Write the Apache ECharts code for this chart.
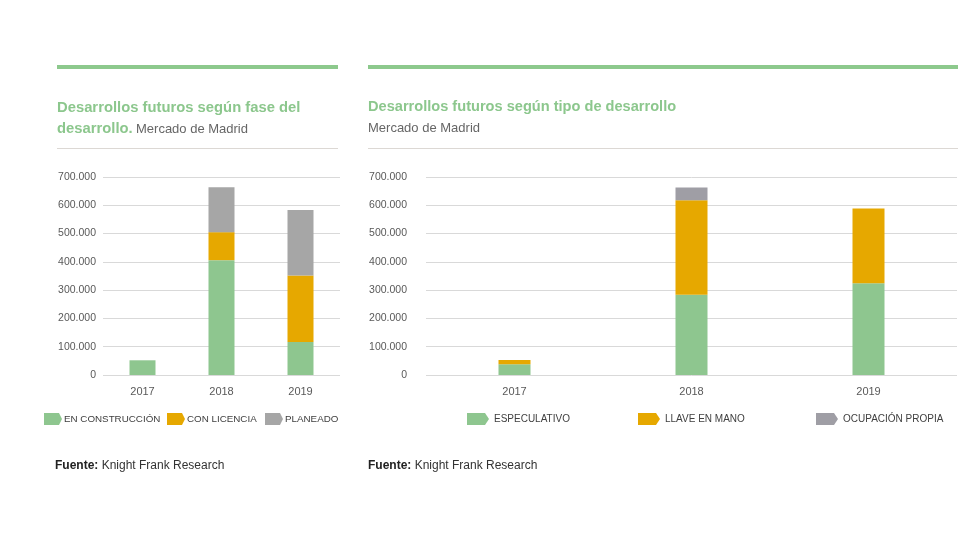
<!DOCTYPE html>
<html>
<head>
<meta charset="utf-8">
<script src="https://cdn.jsdelivr.net/npm/echarts@6/dist/echarts.min.js"></script>
<style>
  html, body { margin: 0; padding: 0; background: #ffffff; }
  #chart { width: 980px; height: 560px; }
</style>
</head>
<body>
<div id="chart"></div>
<script>
// ---- Data ----
const years = ['2017', '2018', '2019'];

// Left chart: by development phase
const faseNames = ['EN CONSTRUCCIÓN', 'CON LICENCIA', 'PLANEADO'];
const enConstruccion = [52000, 406000, 117000];
const conLicencia = [0, 99000, 235000];
const planeado = [0, 159000, 231000];

// Right chart: by development type
const tipoNames = ['ESPECULATIVO', 'LLAVE EN MANO', 'OCUPACIÓN PROPIA'];
const especulativo = [38000, 284000, 324000];
const llaveEnMano = [15000, 334000, 265000];
const ocupacionPropia = [0, 45000, 0];

const yMax = 700000;
const yStep = 100000;

// ---- Style ----
const GREEN = '#8ec68f';
const ORANGE = '#e6a800';
const GRAY_L = '#a6a6a6';
const GRAY_R = '#9f9ea5';
const TITLE_GREEN = '#8cc78d';
const FONT = "'Liberation Sans', Arial, Helvetica, sans-serif";

const fmt = v => v === 0 ? '0' : String(v).replace(/\B(?=(\d{3})+(?!\d))/g, '.');

const chart = echarts.init(document.getElementById('chart'), null, { renderer: 'canvas' });

function yAxisCfg(gridIndex, margin) {
  return {
    type: 'value', gridIndex: gridIndex, min: 0, max: yMax, interval: yStep,
    axisLine: { show: false }, axisTick: { show: false },
    axisLabel: { formatter: fmt, color: '#595959', fontFamily: FONT, fontSize: 10.5, margin: margin },
    splitLine: { lineStyle: { color: '#d9d9d9', width: 1 } }
  };
}
function xAxisCfg(gridIndex) {
  return {
    type: 'category', gridIndex: gridIndex, data: years,
    axisLine: { show: false }, axisTick: { show: false },
    axisLabel: { color: '#595959', fontFamily: FONT, fontSize: 11, margin: 11 }
  };
}

const arrowIcon = 'path://M0,0 L15,0 L18,6 L15,12 L0,12 Z';
const arrowIconR = 'path://M0,0 L18,0 L22,6 L18,12 L0,12 Z';

function legendItem(name, left, top, w, icon, size, pad) {
  return {
    data: [name], left: left, top: top, padding: 0,
    itemWidth: w, itemHeight: 12, icon: icon, selectedMode: false,
    textStyle: { color: '#404040', fontFamily: FONT, fontSize: size, padding: [0, 0, 0, pad] }
  };
}

function barSeries(name, data, color, xi, stack, width) {
  return {
    name: name, type: 'bar', stack: stack, data: data,
    xAxisIndex: xi, yAxisIndex: xi, barWidth: width,
    itemStyle: { color: color },
    emphasis: { disabled: true }
  };
}

const sourceText = (x) => ({
  type: 'text', x: x, y: 466, silent: true,
  style: { text: '{b|Fuente:} {r|Knight Frank Research}', textVerticalAlign: 'middle', verticalAlign: 'middle',
           rich: {
             b: { fill: '#222222', color: '#222222', fontWeight: 'bold', fontSize: 12, fontFamily: FONT },
             r: { fill: '#333333', color: '#333333', fontSize: 12, fontFamily: FONT }
           } }
});

const option = {
  backgroundColor: '#ffffff',
  animation: false,
  grid: [
    { left: 103, right: 980 - 340, top: 177, bottom: 560 - 375, containLabel: false },
    { left: 426, right: 980 - 957, top: 177, bottom: 560 - 375, containLabel: false }
  ],
  xAxis: [xAxisCfg(0), xAxisCfg(1)],
  yAxis: [yAxisCfg(0, 7), yAxisCfg(1, 19)],
  legend: [
    legendItem(faseNames[0], 44, 413, 18, arrowIcon, 9.8, -3),
    legendItem(faseNames[1], 167, 413, 18, arrowIcon, 9.8, -3),
    legendItem(faseNames[2], 265, 413, 18, arrowIcon, 9.8, -3),
    legendItem(tipoNames[0], 467, 413, 22, arrowIconR, 10, 0),
    legendItem(tipoNames[1], 638, 413, 22, arrowIconR, 10, 0),
    legendItem(tipoNames[2], 816, 413, 22, arrowIconR, 10, 0)
  ],
  series: [
    barSeries(faseNames[0], enConstruccion, GREEN, 0, 'fase', 26),
    barSeries(faseNames[1], conLicencia, ORANGE, 0, 'fase', 26),
    barSeries(faseNames[2], planeado, GRAY_L, 0, 'fase', 26),
    barSeries(tipoNames[0], especulativo, GREEN, 1, 'tipo', 32),
    barSeries(tipoNames[1], llaveEnMano, ORANGE, 1, 'tipo', 32),
    barSeries(tipoNames[2], ocupacionPropia, GRAY_R, 1, 'tipo', 32)
  ],
  graphic: [
    // thick green top rules
    { type: 'rect', shape: { x: 57, y: 65, width: 281, height: 4 }, style: { fill: '#8dc98d' }, silent: true },
    { type: 'rect', shape: { x: 368, y: 65, width: 590, height: 4 }, style: { fill: '#8dc98d' }, silent: true },
    // thin rules under subtitles
    { type: 'rect', shape: { x: 57, y: 148, width: 281, height: 1 }, style: { fill: '#dcd8d4' }, silent: true },
    { type: 'rect', shape: { x: 368, y: 148, width: 590, height: 1 }, style: { fill: '#dcd8d4' }, silent: true },
    // left title
    { type: 'text', x: 57, y: 108, silent: true,
      style: { text: 'Desarrollos futuros según fase del', fill: TITLE_GREEN,
               font: 'bold 14.8px ' + FONT, textVerticalAlign: 'middle', verticalAlign: 'middle' } },
    { type: 'text', x: 57, y: 129, silent: true,
      style: { text: '{t|desarrollo.} {s|Mercado de Madrid}', textVerticalAlign: 'middle', verticalAlign: 'middle',
               rich: {
                 t: { fill: TITLE_GREEN, color: TITLE_GREEN, fontWeight: 'bold', fontSize: 14.8, fontFamily: FONT },
                 s: { fill: '#666666', color: '#666666', fontSize: 13, fontFamily: FONT }
               } } },
    // right title
    { type: 'text', x: 368, y: 107, silent: true,
      style: { text: 'Desarrollos futuros según tipo de desarrollo', fill: TITLE_GREEN,
               font: 'bold 14.6px ' + FONT, textVerticalAlign: 'middle', verticalAlign: 'middle' } },
    { type: 'text', x: 368, y: 128.5, silent: true,
      style: { text: 'Mercado de Madrid', fill: '#666666',
               font: '13px ' + FONT, textVerticalAlign: 'middle', verticalAlign: 'middle' } },
    // sources
    sourceText(55),
    sourceText(368)
  ]
};

chart.setOption(option);
</script>
</body>
</html>
